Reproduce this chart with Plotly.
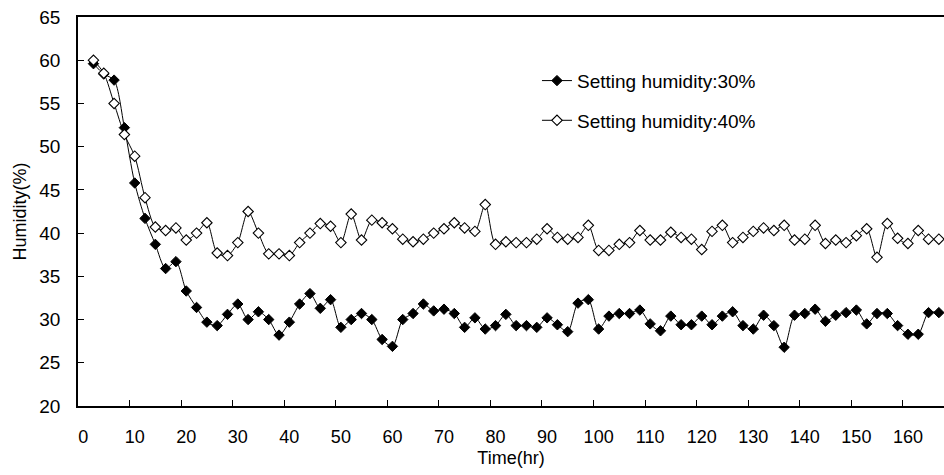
import plotly.graph_objects as go

hours = [2, 4, 6, 8, 10, 12, 14, 16, 18, 20, 22, 24, 26, 28, 30, 32, 34, 36, 38, 40,
         42, 44, 46, 48, 50, 52, 54, 56, 58, 60, 62, 64, 66, 68, 70, 72, 74, 76, 78, 80,
         82, 84, 86, 88, 90, 92, 94, 96, 98, 100, 102, 104, 106, 108, 110, 112, 114, 116, 118, 120,
         122, 124, 126, 128, 130, 132, 134, 136, 138, 140, 142, 144, 146, 148, 150, 152, 154, 156, 158, 160,
         162, 164, 166]

hum30 = [59.6, 58.4, 57.7, 52.2, 45.8, 41.7, 38.7, 35.9, 36.7, 33.3,
         31.4, 29.7, 29.3, 30.6, 31.8, 30.0, 30.9, 30.0, 28.2, 29.7,
         31.8, 33.0, 31.3, 32.3, 29.1, 30.0, 30.7, 30.0, 27.7, 26.9,
         30.0, 30.7, 31.8, 31.0, 31.2, 30.7, 29.1, 30.2, 28.9, 29.3,
         30.6, 29.3, 29.3, 29.1, 30.2, 29.4, 28.6, 31.9, 32.3, 28.9,
         30.4, 30.7, 30.7, 31.1, 29.5, 28.7, 30.4, 29.4, 29.4, 30.4,
         29.4, 30.4, 30.9, 29.3, 28.9, 30.5, 29.3, 26.8, 30.5, 30.7,
         31.2, 29.8, 30.5, 30.8, 31.1, 29.5, 30.7, 30.7, 29.3, 28.3,
         28.3, 30.8, 30.8]

hum40 = [60.0, 58.5, 55.0, 51.4, 48.9, 44.1, 40.7, 40.3, 40.6, 39.2,
         40.0, 41.2, 37.7, 37.4, 38.9, 42.5, 40.0, 37.6, 37.6, 37.4,
         38.9, 40.0, 41.1, 40.8, 38.9, 42.2, 39.2, 41.5, 41.2, 40.5,
         39.3, 39.0, 39.3, 40.0, 40.5, 41.2, 40.6, 40.2, 43.3, 38.7,
         39.0, 38.9, 38.9, 39.3, 40.5, 39.5, 39.3, 39.5, 40.9, 38.0,
         38.0, 38.7, 38.9, 40.3, 39.2, 39.2, 40.1, 39.5, 39.3, 38.1,
         40.2, 40.9, 38.9, 39.5, 40.2, 40.6, 40.3, 40.9, 39.2, 39.3,
         40.9, 38.8, 39.2, 38.9, 39.7, 40.5, 37.2, 41.1, 39.4, 38.8,
         40.3, 39.3, 39.3]

x_tick_vals = [0, 10, 20, 30, 40, 50, 60, 70, 80, 90, 100, 110, 120, 130, 140, 150, 160]
x_tick_text = [str(v) for v in x_tick_vals]
x_minor_ticks = [9, 19, 29, 39, 49, 59, 69, 79, 89, 99, 109, 119, 129, 139, 149, 159]
y_tick_vals = [20, 25, 30, 35, 40, 45, 50, 55, 60, 65]

FONT = "Arial, Liberation Sans, sans-serif"

fig = go.Figure()
fig.add_trace(go.Scatter(
    x=hours, y=hum30, mode="lines+markers", name="Setting humidity:30%",
    legendgroup="a",
    line=dict(color="black", width=1, shape="spline", smoothing=0.8),
    marker=dict(symbol="diamond", size=8, color="black", line=dict(color="black", width=1)),
))
fig.add_trace(go.Scatter(
    x=hours, y=hum40, mode="lines+markers", name="Setting humidity:40%",
    legendgroup="b",
    line=dict(color="black", width=1, shape="spline", smoothing=0.8),
    marker=dict(symbol="diamond", size=8, color="white", line=dict(color="black", width=1.1)),
))

fig.update_layout(
    width=944, height=475,
    margin=dict(l=78, r=0, t=17, b=69),
    paper_bgcolor="white", plot_bgcolor="white",
    font=dict(family=FONT, size=18, color="black"),
    showlegend=True,
    legend=dict(x=0.53, y=0.885, xanchor="left", yanchor="top",
                bgcolor="rgba(0,0,0,0)", font=dict(size=19, family=FONT),
                tracegroupgap=12, itemwidth=30),
    xaxis=dict(
        range=[-1, 167], showgrid=False, zeroline=False,
        showline=True, linecolor="black", linewidth=1.5, mirror=True,
        tickmode="array", tickvals=x_tick_vals, ticktext=x_tick_text,
        ticks="", ticklabelstandoff=14,
        tickfont=dict(size=18),
        minor=dict(tickmode="array", tickvals=x_minor_ticks, ticks="inside",
                   ticklen=6, tickcolor="black", tickwidth=1, showgrid=False),
        title=dict(text="Time(hr)", font=dict(size=18), standoff=5),
    ),
    yaxis=dict(
        range=[20, 65], showgrid=False, zeroline=False,
        showline=True, linecolor="black", linewidth=1.5,
        tickmode="array", tickvals=y_tick_vals,
        ticks="inside", ticklen=6, tickcolor="black",
        ticklabelstandoff=12, tickfont=dict(size=19),
        title=dict(text="Humidity(%)", font=dict(size=18), standoff=8),
    ),
)

fig.write_html("out.html")
